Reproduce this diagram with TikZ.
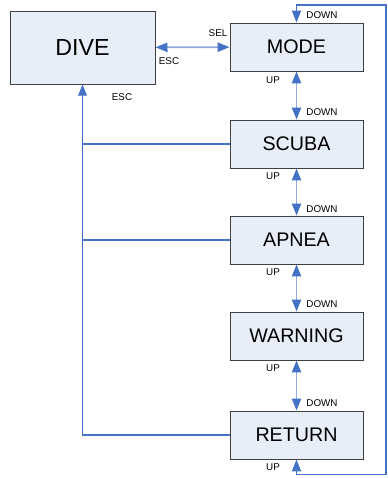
\documentclass[tikz,border=0pt]{standalone}
\usepackage{fontspec}
\setmainfont{Liberation Sans}
\usetikzlibrary{arrows.meta, positioning, calc}

\definecolor{boxfill}{HTML}{E8EEF8}
\definecolor{boxline}{HTML}{404040}
\definecolor{linkblue}{HTML}{4472C4}
\definecolor{lightblue}{HTML}{8FAADC}

\begin{document}
\begin{tikzpicture}[
  state/.style={rectangle, draw=boxline, fill=boxfill, line width=0.7pt,
                minimum width=3.325cm, minimum height=1.2cm, align=center,
                font=\fontsize{14}{16}\selectfont},
  bigstate/.style={state, minimum width=3.625cm, minimum height=1.825cm,
                   font=\fontsize{16.5}{18}\selectfont},
  keyarrow/.style={{Triangle[length=3mm,width=2.3mm,color=linkblue]}-{Triangle[length=3mm,width=2.3mm,color=linkblue]},
                   draw=lightblue, line width=1.3pt},
  looparrow/.style={{Triangle[length=3mm,width=2.3mm]}-{Triangle[length=3mm,width=2.3mm]},
                    draw=linkblue, line width=0.9pt},
  escline/.style={draw=linkblue, line width=0.8pt},
  keylab/.style={font=\fontsize{7}{8}\selectfont, inner sep=0pt}
]
\useasboundingbox (0,0) rectangle (9.7,-11.95);

% States
\node[bigstate] (dive) at (2.0625,-1.1875) {DIVE};
\node[state] (mode) at (7.4125,-1.175) {MODE};
\node[state] (scuba) at (7.4125,-3.6) {SCUBA};
\node[state] (apnea) at (7.4125,-6.0) {APNEA};
\node[state] (warning) at (7.4125,-8.4) {WARNING};
\node[state] (return) at (7.4125,-10.875) {RETURN};

% Key transitions
\draw[keyarrow] (dive) -- (mode);
\draw[keyarrow] (mode) -- (scuba);
\draw[keyarrow] (scuba) -- (apnea);
\draw[keyarrow] (apnea) -- (warning);
\draw[keyarrow] (warning) -- (return);
\draw[looparrow] (return.south) -- ++(0,-0.375) -| (9.65,-0.125) -| (mode.north);

% ESC back to DIVE
\draw[escline, -{Triangle[length=2.8mm,width=2.2mm]}] (return.west) -| (dive.south);
\draw[escline] (scuba.west) -- (scuba.west -| dive.south);
\draw[escline] (apnea.west) -- (apnea.west -| dive.south);

% Key labels
\node[keylab] (lsel) at (5.45,-0.825) {SEL};
\node[keylab] (lesc1) at (4.225,-1.525) {ESC};
\node[keylab] (lesc2) at (3.05,-2.425) {ESC};
\node[keylab] (ld0) at (8.05,-0.375) {DOWN};
\node[keylab] (lu1) at (6.825,-2.0) {UP};
\node[keylab] (ld1) at (8.05,-2.8) {DOWN};
\node[keylab] (lu2) at (6.825,-4.4) {UP};
\node[keylab] (ld2) at (8.05,-5.225) {DOWN};
\node[keylab] (lu3) at (6.825,-6.8) {UP};
\node[keylab] (ld3) at (8.05,-7.6) {DOWN};
\node[keylab] (lu4) at (6.825,-9.2) {UP};
\node[keylab] (ld4) at (8.05,-10.075) {DOWN};
\node[keylab] (lu5) at (6.825,-11.675) {UP};

\end{tikzpicture}
\end{document}
